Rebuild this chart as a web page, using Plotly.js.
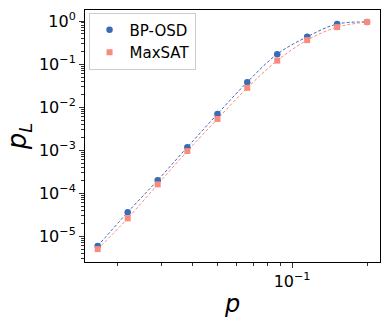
<!DOCTYPE html>
<html>
<head>
<meta charset="utf-8">
<script src="https://cdn.plot.ly/plotly-3.0.1.min.js"></script>
<style>
  html, body { margin: 0; padding: 0; background: #fff; }
  #chart { width: 390px; height: 325px; }
</style>
</head>
<body>
<div id="chart"></div>
<script>
  // physical error rate p
  const pValues = [0.0166, 0.0219, 0.0289, 0.0380, 0.0502, 0.0661, 0.0872, 0.115, 0.1517, 0.2];
  // logical error rate, BP-OSD
  const bposd = [5.9e-6, 3.6e-5, 2.0e-4, 1.17e-3, 6.9e-3, 3.8e-2, 0.17, 0.43, 0.85, 0.95];
  // logical error rate, MaxSAT
  const maxsat = [5.0e-6, 2.6e-5, 1.6e-4, 9.5e-4, 5.3e-3, 2.8e-2, 0.12, 0.36, 0.72, 0.95];

  const yTickVals = [1, 0.1, 0.01, 0.001, 0.0001, 0.00001];
  const yTickText = ['10<sup>0</sup>', '10<sup>−1</sup>', '10<sup>−2</sup>',
                     '10<sup>−3</sup>', '10<sup>−4</sup>', '10<sup>−5</sup>'];
  const xTickVals = [0.1];
  const xTickText = ['10<sup>−1</sup>'];

  const blue = '#3a6bb3';
  const salmon = '#f98a7e';

  const traces = [
    { x: pValues, y: bposd, mode: 'lines',
      line: { color: blue, width: 1, dash: '3px,2px', shape: 'spline', smoothing: 1 },
      showlegend: false, hoverinfo: 'skip' },
    { x: pValues, y: maxsat, mode: 'lines',
      line: { color: salmon, width: 1, dash: '3px,2px', shape: 'spline', smoothing: 1 },
      showlegend: false, hoverinfo: 'skip' },
    { x: pValues, y: bposd, mode: 'markers', name: 'BP-OSD',
      marker: { color: blue, size: 6.5, symbol: 'circle' } },
    { x: pValues, y: maxsat, mode: 'markers', name: 'MaxSAT',
      marker: { color: salmon, size: 6, symbol: 'square' } }
  ];

  const axisCommon = {
    type: 'log',
    showgrid: false,
    zeroline: false,
    showline: true,
    linecolor: '#000',
    linewidth: 1,
    mirror: true,
    ticks: 'outside',
    ticklen: 5,
    tickcolor: '#333',
    tickfont: { family: 'DejaVu Sans', size: 16, color: '#000' }
  };

  const layout = {
    width: 390,
    height: 325,
    margin: { l: 85, r: 10, t: 10, b: 63 },
    paper_bgcolor: '#fff',
    plot_bgcolor: '#fff',
    font: { family: 'DejaVu Sans', color: '#000' },
    xaxis: Object.assign({}, axisCommon, {
      range: [Math.log10(0.01476), Math.log10(0.2254)],
      tickvals: xTickVals,
      ticktext: xTickText,
      minor: { ticks: 'outside', ticklen: 3, tickcolor: '#333',
               tickvals: [0.02, 0.03, 0.04, 0.05, 0.06, 0.07, 0.08, 0.09, 0.2] },
      title: { text: '<i>p</i>', font: { family: 'DejaVu Sans', size: 24 }, standoff: 4 }
    }),
    yaxis: Object.assign({}, axisCommon, {
      range: [-5.6, 0.256],
      tickvals: yTickVals,
      ticktext: yTickText,
      minor: { ticks: 'outside', ticklen: 3, tickcolor: '#333', dtick: 'D1' },
      title: { text: '<i>p<sub>L</sub></i>', font: { family: 'DejaVu Sans', size: 26 }, standoff: 4 }
    }),
    legend: {
      x: 0.012, y: 0.99, xanchor: 'left', yanchor: 'top',
      bgcolor: 'rgba(255,255,255,0.8)',
      bordercolor: '#ccc', borderwidth: 1,
      font: { family: 'DejaVu Sans', size: 15, color: '#000' },
      itemwidth: 30, tracegroupgap: 0
    }
  };

  Plotly.newPlot('chart', traces, layout, { displayModeBar: false, staticPlot: true });
</script>
</body>
</html>
